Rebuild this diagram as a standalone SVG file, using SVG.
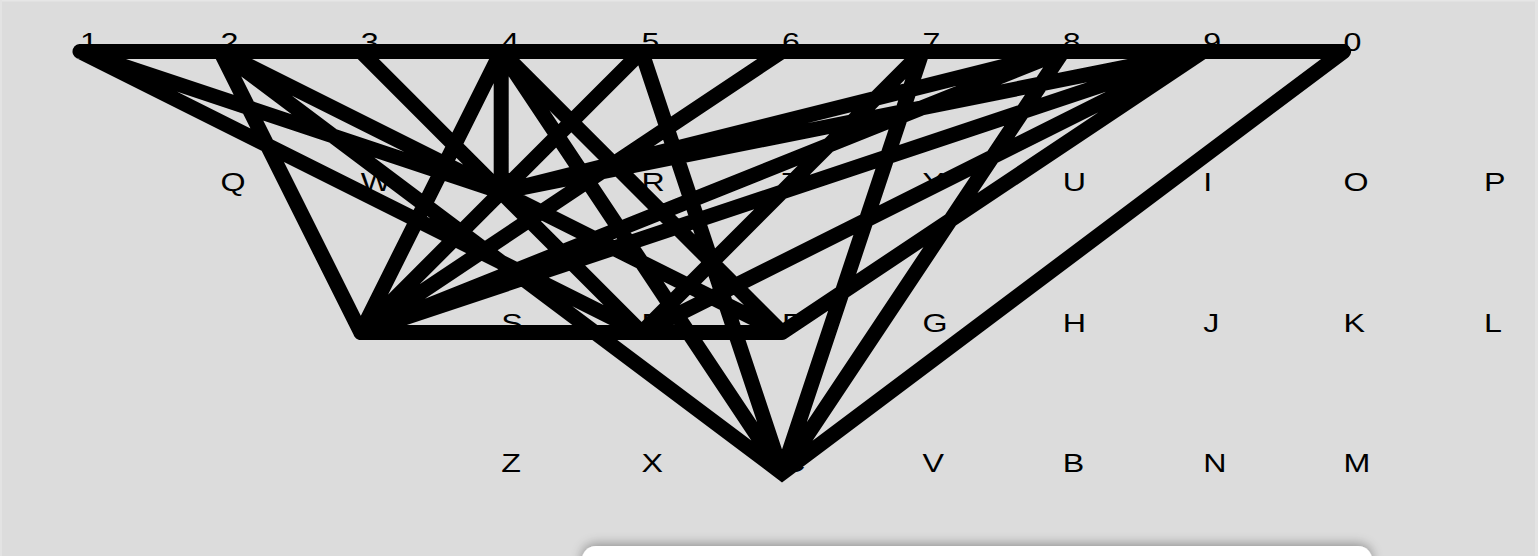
<svg xmlns="http://www.w3.org/2000/svg" width="1538" height="556" viewBox="0 0 1538 556">
<style>
.k{font-family:"Liberation Sans",Arial,sans-serif;font-size:26px;fill:#000}
.ln{fill:none;stroke:#000;stroke-width:15;stroke-linecap:round;stroke-linejoin:miter}
</style>
<defs>
<filter id="sh" x="-10%" y="-100%" width="120%" height="300%">
<feGaussianBlur in="SourceAlpha" stdDeviation="6"/>
<feOffset dy="-2"/>
<feComponentTransfer><feFuncA type="linear" slope="0.35"/></feComponentTransfer>
<feMerge><feMergeNode/><feMergeNode in="SourceGraphic"/></feMerge>
</filter>
</defs>
<rect x="0" y="0" width="1538" height="556" fill="#dcdcdc"/>
<rect x="0" y="0" width="1538" height="1.5" fill="#e6e6e6"/>
<rect x="0" y="0" width="2" height="556" fill="#e3e3e3"/>
<rect x="1535" y="0" width="3" height="556" fill="#e3e3e3"/>
<g id="keys">
<g id="k1"><text class="k" transform="translate(80,50.5) scale(1.24,1)">1</text></g>
<g id="k2"><text class="k" transform="translate(220.4,50.5) scale(1.24,1)">2</text></g>
<g id="k3"><text class="k" transform="translate(360.8,50.5) scale(1.24,1)">3</text></g>
<g id="k4"><text class="k" transform="translate(501.2,50.5) scale(1.24,1)">4</text></g>
<g id="k5"><text class="k" transform="translate(641.6,50.5) scale(1.24,1)">5</text></g>
<g id="k6"><text class="k" transform="translate(782,50.5) scale(1.24,1)">6</text></g>
<g id="k7"><text class="k" transform="translate(922.4,50.5) scale(1.24,1)">7</text></g>
<g id="k8"><text class="k" transform="translate(1062.8,50.5) scale(1.24,1)">8</text></g>
<g id="k9"><text class="k" transform="translate(1203.2,50.5) scale(1.24,1)">9</text></g>
<g id="k0"><text class="k" transform="translate(1343.6,50.5) scale(1.24,1)">0</text></g>
<g id="kQ"><text class="k" transform="translate(220.4,191) scale(1.24,1)">Q</text></g>
<g id="kW"><text class="k" transform="translate(360.8,191) scale(1.24,1)">W</text></g>
<g id="kE"><text class="k" transform="translate(501.2,191) scale(1.24,1)">E</text></g>
<g id="kR"><text class="k" transform="translate(641.6,191) scale(1.24,1)">R</text></g>
<g id="kT"><text class="k" transform="translate(782,191) scale(1.24,1)">T</text></g>
<g id="kY"><text class="k" transform="translate(922.4,191) scale(1.24,1)">Y</text></g>
<g id="kU"><text class="k" transform="translate(1062.8,191) scale(1.24,1)">U</text></g>
<g id="kI"><text class="k" transform="translate(1203.2,191) scale(1.24,1)">I</text></g>
<g id="kO"><text class="k" transform="translate(1343.6,191) scale(1.24,1)">O</text></g>
<g id="kP"><text class="k" transform="translate(1484,191) scale(1.24,1)">P</text></g>
<g id="kA"><text class="k" transform="translate(360.8,331.5) scale(1.24,1)">A</text></g>
<g id="kS"><text class="k" transform="translate(501.2,331.5) scale(1.24,1)">S</text></g>
<g id="kD"><text class="k" transform="translate(641.6,331.5) scale(1.24,1)">D</text></g>
<g id="kF"><text class="k" transform="translate(782,331.5) scale(1.24,1)">F</text></g>
<g id="kG"><text class="k" transform="translate(922.4,331.5) scale(1.24,1)">G</text></g>
<g id="kH"><text class="k" transform="translate(1062.8,331.5) scale(1.24,1)">H</text></g>
<g id="kJ"><text class="k" transform="translate(1203.2,331.5) scale(1.24,1)">J</text></g>
<g id="kK"><text class="k" transform="translate(1343.6,331.5) scale(1.24,1)">K</text></g>
<g id="kL"><text class="k" transform="translate(1484,331.5) scale(1.24,1)">L</text></g>
<g id="kZ"><text class="k" transform="translate(501.2,472) scale(1.24,1)">Z</text></g>
<g id="kX"><text class="k" transform="translate(641.6,472) scale(1.24,1)">X</text></g>
<g id="kC"><text class="k" transform="translate(782,472) scale(1.24,1)">C</text></g>
<g id="kV"><text class="k" transform="translate(922.4,472) scale(1.24,1)">V</text></g>
<g id="kB"><text class="k" transform="translate(1062.8,472) scale(1.24,1)">B</text></g>
<g id="kN"><text class="k" transform="translate(1203.2,472) scale(1.24,1)">N</text></g>
<g id="kM"><text class="k" transform="translate(1343.6,472) scale(1.24,1)">M</text></g>
</g>
<g id="connectors">
<path class="ln" d="M80,51.5 H1343.6 M360.8,332.5 H782
M80,51.5 L501.2,192 M80,51.5 L641.6,332.5
M220.4,51.5 L360.8,332.5 M220.4,51.5 L782,332.5
M220.4,51.5 L782,473 L1343.6,51.5
M360.8,51.5 L641.6,332.5
M501.2,51.5 L360.8,332.5 M501.2,51.5 L501.2,192 M501.2,51.5 L782,332.5 M501.2,51.5 L782,473
M641.6,51.5 L360.8,332.5 M641.6,51.5 L782,473
M782,51.5 L360.8,332.5
M922.4,51.5 L782,473 M922.4,51.5 L641.6,332.5
M1062.8,51.5 L782,473
M782,332.5 L1203.2,51.5 M641.6,332.5 L1203.2,51.5
M360.8,332.5 L1062.8,51.5 M360.8,332.5 L1203.2,51.5
M501.2,192 L1062.8,51.5 M501.2,192 L1203.2,51.5"/>
</g>
<rect x="582" y="546" width="790" height="40" rx="14" fill="#ffffff" filter="url(#sh)"/>
</svg>
